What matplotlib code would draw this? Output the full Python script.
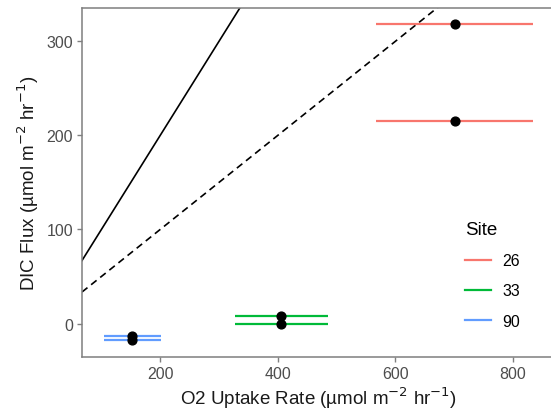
import numpy as np
import matplotlib
matplotlib.use("Agg")
import matplotlib.pyplot as plt
from matplotlib.lines import Line2D

plt.rcParams['font.family'] = ['Liberation Sans', 'DejaVu Sans']

# -----------------------------
# Data
# -----------------------------
sites = ['26', '33', '90']
site_colors = ['#F8766D', '#00BA38', '#619CFF']

o2_mean = [701, 701, 406, 406, 152, 152]
o2_min = [568, 568, 327, 327, 104, 104]
o2_max = [835, 835, 485, 485, 202, 202]
dic_flux = [319, 215, 8, 0, -13, -18]
point_site = ['26', '26', '33', '33', '90', '90']

# reference lines y = slope * x
ref_slopes = [1.0, 0.5]
ref_styles = ['-', '--']

# -----------------------------
# Figure
# -----------------------------
fig = plt.figure(figsize=(5.51, 4.10), dpi=100)
ax = fig.add_axes([82 / 551, 1 - 357.7 / 410, (555 - 82) / 551, (357.7 - 9) / 410])

xlim = (67, 872)
ylim = (-35.3, 335.6)

xs = np.array(xlim)
for s, ls in zip(ref_slopes, ref_styles):
    line, = ax.plot(xs, s * xs, color='black', linewidth=1.2, zorder=2)
    if ls == '--':
        line.set_dashes((4.2, 2.8))

col_of = dict(zip(sites, site_colors))
for xm, lo, hi, y, st in zip(o2_mean, o2_min, o2_max, dic_flux, point_site):
    ax.hlines(y, lo, hi, color=col_of[st], linewidth=1.6, zorder=3)
    ax.scatter([xm], [y], s=40, color='black', zorder=4)

ax.set_xlim(*xlim)
ax.set_ylim(*ylim)
ax.set_xticks([200, 400, 600, 800])
ax.set_yticks([0, 100, 200, 300])

for side in ['top', 'left', 'bottom', 'right']:
    ax.spines[side].set_color('#7F7F7F')
    ax.spines[side].set_linewidth(1.1)
ax.tick_params(axis='both', colors='#7F7F7F', length=3.5, width=1,
               labelsize=11.5, labelcolor='#4D4D4D', pad=3)

ax.set_xlabel('O2 Uptake Rate (µmol m$^{-2}$ hr$^{-1}$)', fontsize=13.5,
              color='#1A1A1A', labelpad=3)
ax.set_ylabel('DIC Flux (µmol m$^{-2}$ hr$^{-1}$)', fontsize=13.5,
              color='#1A1A1A', labelpad=4)

handles = [Line2D([0], [0], color=c, linewidth=1.6) for c in site_colors]
leg = fig.legend(handles, sites, title='Site', loc='upper left',
                 bbox_to_anchor=(465 / 551, 1 - 222 / 410),
                 bbox_transform=fig.transFigure, frameon=False,
                 fontsize=11.5, title_fontsize=13.5, handlelength=1.6,
                 labelspacing=0.95, handletextpad=0.75, borderaxespad=0,
                 borderpad=0)
leg._legend_box.align = 'left'

fig.savefig('out.png', dpi=100)
